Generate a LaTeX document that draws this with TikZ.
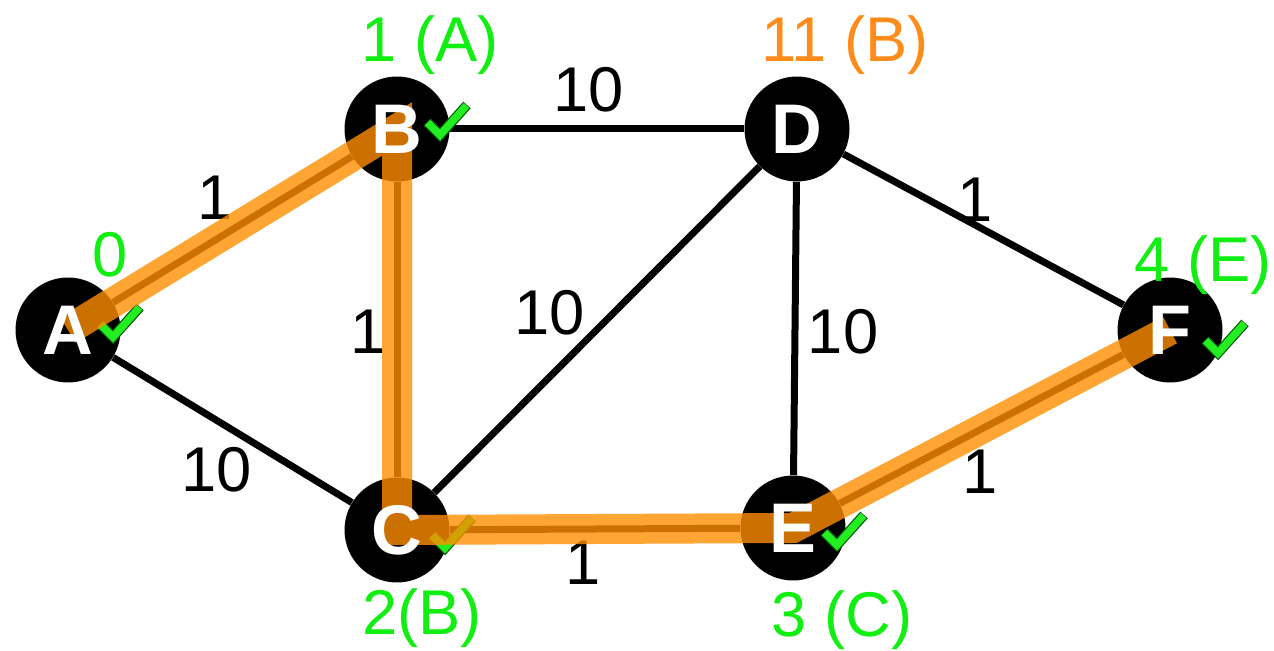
\documentclass[tikz,border=0pt]{standalone}
\usepackage{fontspec}
\setmainfont{Liberation Sans}
\usepackage{tikz}
\usetikzlibrary{positioning}
\definecolor{pathorange}{HTML}{FF8E00}
\definecolor{distgreen}{HTML}{11EE11}
\definecolor{distorange}{HTML}{FF8C1A}
\definecolor{tickgreen}{HTML}{22EE22}
\definecolor{tickrim}{HTML}{0A5A0A}
\tikzset{
  vertex/.style={circle, fill=black, minimum size=2.1cm, inner sep=0pt},
  vname/.style={inner sep=0pt, text=white, font=\fontsize{40}{46}\selectfont\bfseries},
  edgeline/.style={draw=black, line width=0.14cm},
  weight/.style={inner sep=0pt, font=\fontsize{36}{42}\selectfont},
  dist/.style={weight, text=distgreen},
  shortest/.style={draw=pathorange, opacity=0.8, line width=0.6cm, line join=miter, line cap=butt},
  tick/.pic={
    \draw[tickrim, line width=0.2cm] (-13,-13) -- (0,0) -- (27,-30);
    \draw[tickgreen, line width=0.15cm] (-12.5,-12.5) -- (0,0) -- (26.5,-29.5);
  }
}
\begin{document}
\begin{tikzpicture}[x=0.02cm, y=-0.02cm]
  \useasboundingbox (0,0) rectangle (1274,651);

  % vertices
  \node[vertex] (A) at (68,330) {};
  \node[vertex] (B) at (397,129) {};
  \node[vertex] (C) at (397,530) {};
  \node[vertex] (D) at (797,129) {};
  \node[vertex] (E) at (793,528) {};
  \node[vertex] (F) at (1170,330) {};

  % edges
  \draw[edgeline] (A) -- (B);
  \draw[edgeline] (A) -- (C);
  \draw[edgeline] (B) -- (D);
  \draw[edgeline] (B) -- (C);
  \draw[edgeline] (C) -- (D);
  \draw[edgeline] (C) -- (E);
  \draw[edgeline] (D) -- (E);
  \draw[edgeline] (D) -- (F);
  \draw[edgeline] (E) -- (F);

  % weights
  \node[weight] (wab) at (215,198) {1};
  \node[weight] (wbd) at (589,90) {10};
  \node[weight] (wbc) at (368,332) {1};
  \node[weight] (wcd) at (550,313) {10};
  \node[weight] (wde) at (843,332) {10};
  \node[weight] (wdf) at (975,200) {1};
  \node[weight] (wac) at (217,470) {10};
  \node[weight] (wce) at (583,563) {1};
  \node[weight] (wef) at (980,472) {1};

  % distances
  \node[dist] (dA) at (110,255) {0};
  \node[dist] (dB) at (430,45) {1 (A)};
  \node[dist, text=distorange] (dD) at (845,45) {11 (B)};
  \node[dist] (dF) at (1203,265) {4 (E)};
  \node[dist] (dC) at (422,618) {2(B)};
  \node[dist] (dE) at (842,620) {3 (C)};

  % visited marks
  \pic at (113,337) {tick};
  \pic at (440,135) {tick};
  \pic at (445,548) {tick};
  \pic at (837,545) {tick};
  \pic at (1218,353) {tick};

  % shortest path
  \draw[shortest] (A.center) -- (B.center) -- (C.center) -- (E.center) -- (F.center);

  % vertex names
  \node[vname] (nA) at (A) {A};
  \node[vname] (nB) at (B) {B};
  \node[vname] (nC) at (C) {C};
  \node[vname] (nD) at (D) {D};
  \node[vname] (nE) at (E) {E};
  \node[vname] (nF) at (F) {F};
\end{tikzpicture}
\end{document}
